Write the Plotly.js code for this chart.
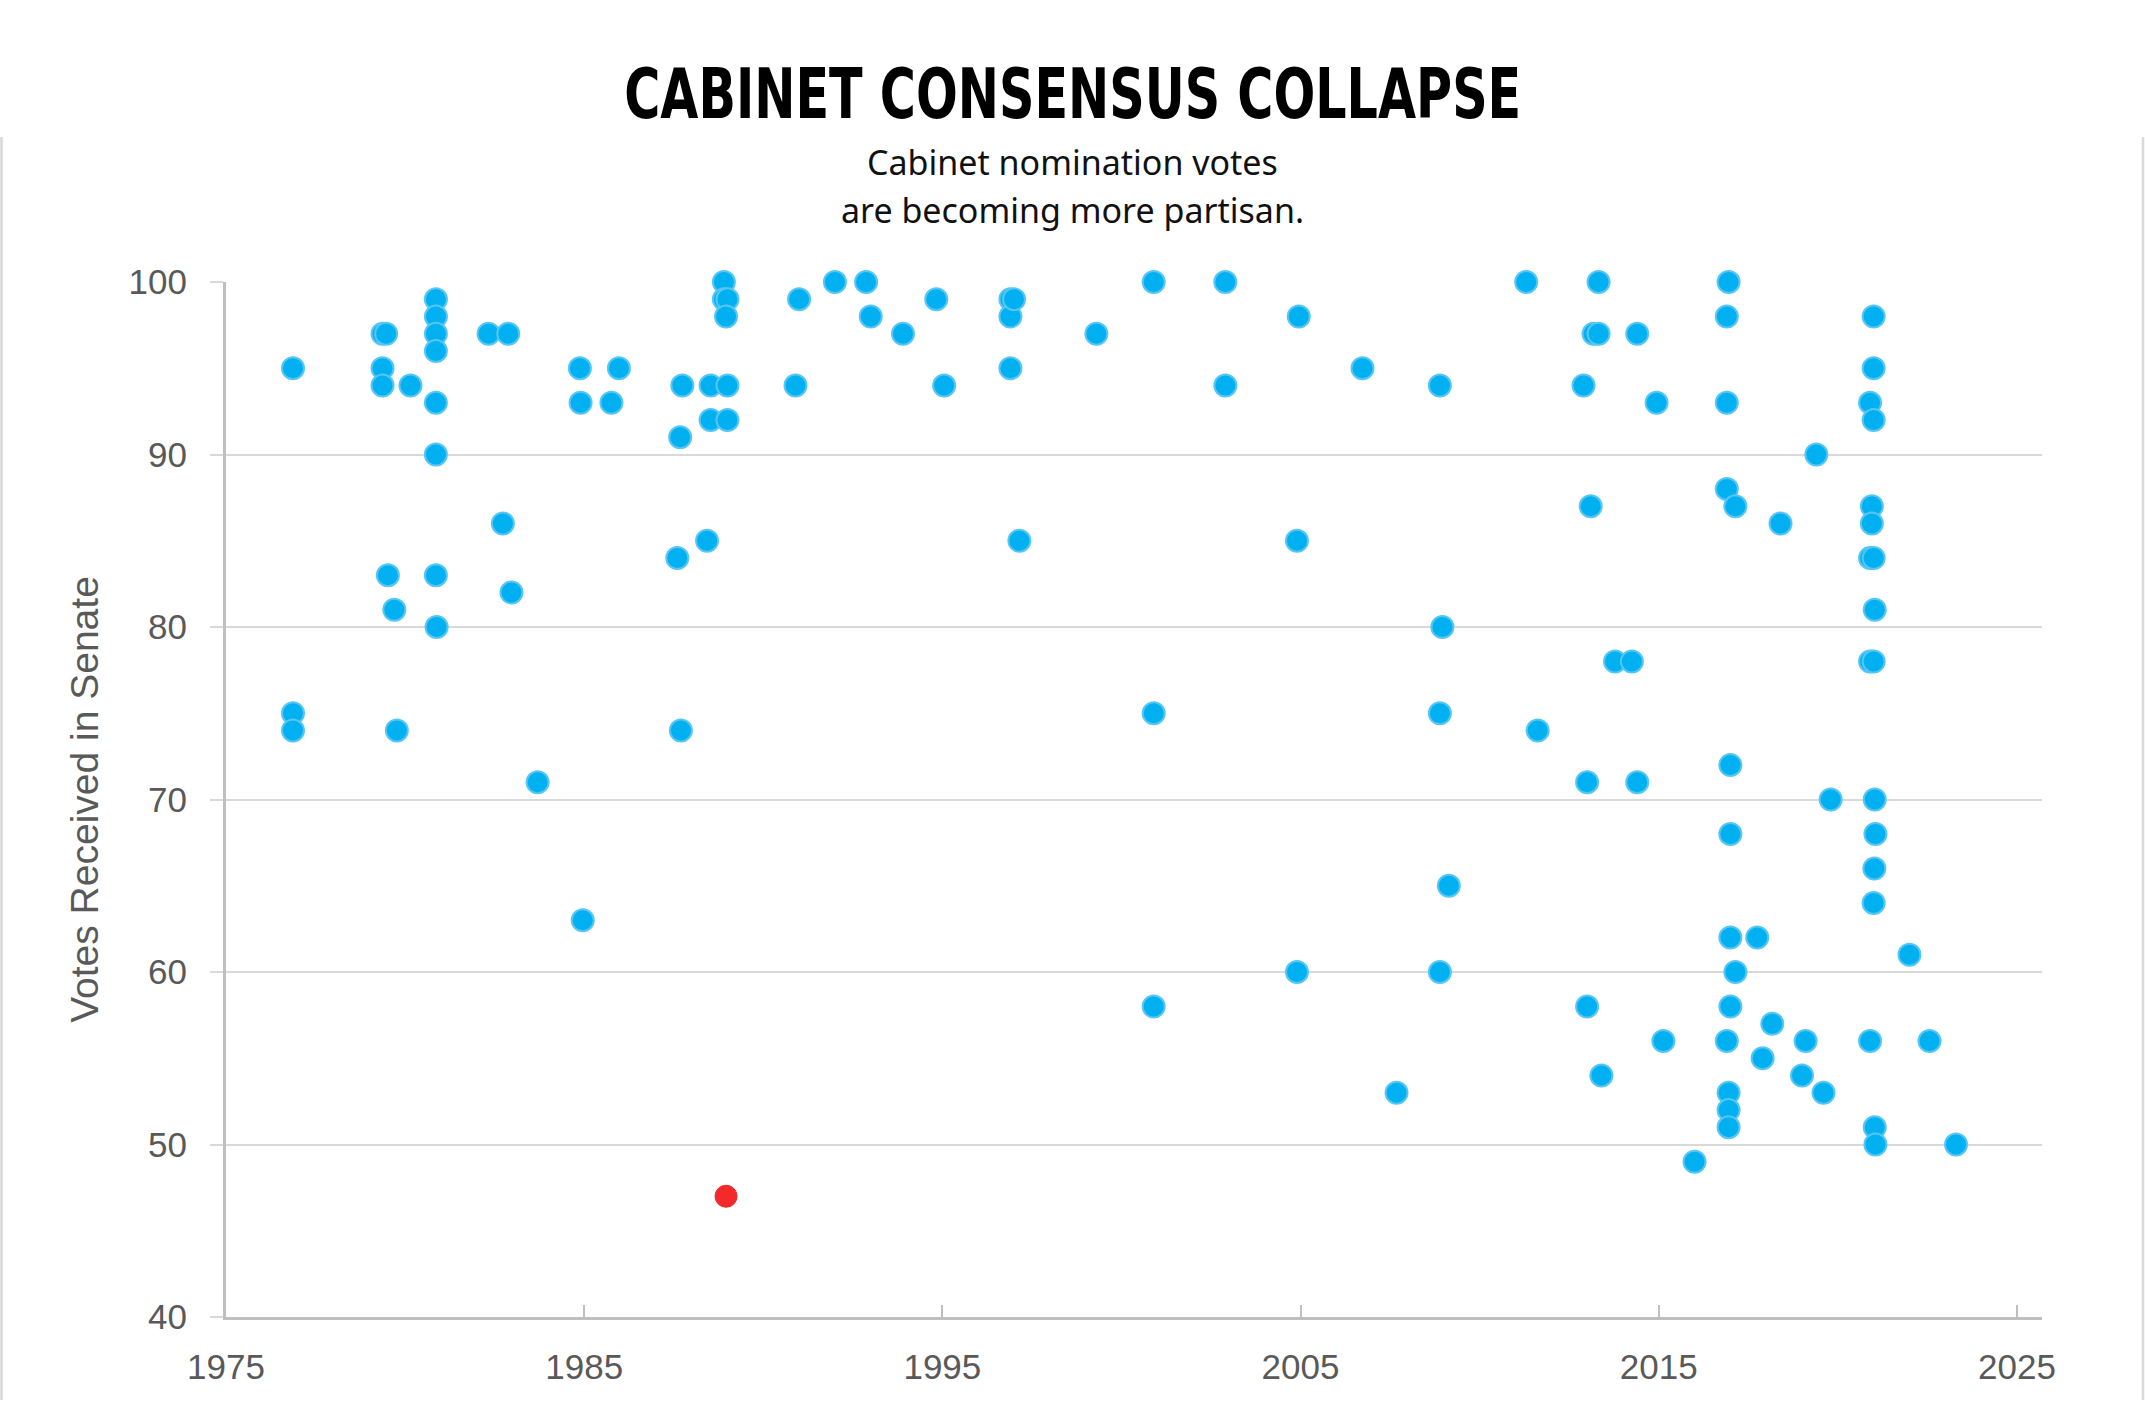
<!DOCTYPE html>
<html>
<head>
<meta charset="utf-8">
<script src="https://cdn.plot.ly/plotly-3.0.1.min.js"></script>
<style>
  html, body { margin: 0; padding: 0; background: #ffffff; }
  #chart { width: 2145px; height: 1423px; }
</style>
</head>
<body>
<div id="chart"></div>
<script>
// ---- Data (year of confirmation vote, votes received) ----
const nomYear = [
  1976.87, 1976.87, 1976.87,
  1979.37, 1979.37, 1979.37, 1979.47, 1979.52, 1979.70, 1979.77, 1980.15,
  1980.86, 1980.86, 1980.86, 1980.86, 1980.86, 1980.86, 1980.86, 1980.88,
  1982.33, 1982.88, 1982.73, 1982.97, 1983.70,
  1984.88, 1984.90, 1984.96, 1985.76, 1985.97,
  1987.74, 1987.68, 1987.60, 1987.70,
  1988.53, 1988.53, 1988.43, 1989.00, 1989.00, 1988.90, 1988.90, 1989.00, 1988.96,
  1991.00, 1990.90, 1992.00, 1992.87, 1993.00, 1993.90, 1994.83, 1995.05,
  1996.90, 1996.90, 1996.90, 1997.00, 1997.15, 1999.30,
  2000.90, 2000.90, 2000.90, 2002.90, 2002.90,
  2004.95, 2004.90, 2004.90, 2006.73, 2007.68,
  2008.89, 2008.89, 2008.89, 2008.96, 2009.14, 2011.30, 2011.62,
  2012.90, 2013.00, 2013.00, 2013.10, 2013.18, 2013.32, 2013.32, 2013.40,
  2013.78, 2014.25, 2014.40, 2014.40, 2014.94, 2015.13, 2016.00,
  2016.95, 2016.90, 2016.90, 2016.90, 2017.00, 2017.00,
  2017.00, 2017.00, 2016.90, 2016.95, 2016.95, 2016.95,
  2017.14, 2017.14, 2017.75, 2017.90, 2018.17, 2018.40,
  2019.00, 2019.10, 2019.40, 2019.60, 2019.80,
  2020.90, 2020.90, 2020.90, 2020.90,
  2021.00, 2021.00, 2021.00, 2020.95, 2020.95, 2021.00, 2021.03,
  2021.00, 2021.03, 2021.05, 2021.02, 2021.00, 2021.03, 2021.05,
  2022.00, 2022.56, 2023.30
];
const nomVotes = [
  95, 75, 74,
  97, 95, 94, 97, 83, 81, 74, 94,
  99, 98, 97, 96, 93, 90, 83, 80,
  97, 97, 86, 82, 71,
  95, 93, 63, 93, 95,
  94, 91, 84, 74,
  94, 92, 85, 94, 92, 100, 99, 99, 98,
  99, 94, 100, 100, 98, 97, 99, 94,
  99, 98, 95, 99, 85, 97,
  100, 75, 58, 100, 94,
  98, 85, 60, 95, 53,
  94, 75, 60, 80, 65, 100, 74,
  94, 71, 58, 87, 97, 97, 100, 54,
  78, 78, 97, 71, 93, 56, 49,
  100, 98, 93, 88, 72, 68,
  62, 58, 56, 53, 52, 51,
  87, 60, 62, 55, 57, 86,
  54, 56, 90, 53, 70,
  93, 84, 78, 56,
  98, 95, 92, 87, 86, 84, 81,
  78, 70, 68, 66, 64, 51, 50,
  61, 56, 50
];
// Highlighted outlier (rejected nomination)
const outlierYear = [1988.96];
const outlierVotes = [47];

const xTicks = [1975, 1985, 1995, 2005, 2015, 2025];
const yTicks = [40, 50, 60, 70, 80, 90, 100];

const titleText = 'CABINET CONSENSUS COLLAPSE';
const subtitleLines = ['Cabinet nomination votes', 'are becoming more partisan.'];
const yTitleText = 'Votes Received in Senate';

// ---- Chart ----
const axisGrey = '#bfbfbf';
const gridGrey = '#d9d9d9';
const textGrey = '#595959';

const traces = [
  {
    type: 'scatter', mode: 'markers', x: nomYear, y: nomVotes,
    cliponaxis: false, hoverinfo: 'x+y',
    marker: { size: 22, color: '#00b0f0', line: { color: '#55c6f5', width: 2 } }
  },
  {
    type: 'scatter', mode: 'markers', x: outlierYear, y: outlierVotes,
    cliponaxis: false, hoverinfo: 'x+y',
    marker: { size: 22, color: '#f42a2a', line: { color: '#f42a2a', width: 1 } }
  }
];

const L = 226, R = 103, T = 282, B = 106;
const plotW = 2145 - L - R, plotH = 1423 - T - B;
const px2xp = (px) => (px - L) / plotW;
const py2yp = (py) => (1423 - B - py) / plotH;

const layout = {
  width: 2145, height: 1423,
  margin: { l: L, r: R, t: T, b: B, pad: 0 },
  paper_bgcolor: '#ffffff', plot_bgcolor: '#ffffff',
  showlegend: false,
  font: { family: '"Liberation Sans", Arial, sans-serif', color: textGrey },
  xaxis: {
    range: [1975, 2025.7], tickvals: xTicks, ticktext: xTicks.map(String),
    ticks: 'inside', ticklen: 12, tickwidth: 2, tickcolor: axisGrey,
    showline: true, linecolor: axisGrey, linewidth: 3,
    showgrid: false, zeroline: false,
    tickfont: { size: 35, color: textGrey, family: '"Liberation Sans", Arial, sans-serif' },
    ticklabelstandoff: 17
  },
  yaxis: {
    range: [40, 100], tickvals: yTicks, ticktext: yTicks.map(String),
    ticks: 'outside', ticklen: 13, tickwidth: 2, tickcolor: gridGrey,
    showline: true, linecolor: axisGrey, linewidth: 3,
    showgrid: true, gridcolor: gridGrey, gridwidth: 2, zeroline: false,
    tickfont: { size: 35, color: textGrey, family: '"Liberation Sans", Arial, sans-serif' },
    ticklabelstandoff: 16,
    title: { text: yTitleText, standoff: 18,
             font: { size: 39, color: textGrey, family: '"Liberation Sans", Arial, sans-serif' } }
  },
  annotations: [
    { text: '<b>' + titleText + '</b>', xref: 'paper', yref: 'paper',
      x: px2xp(1072.5), y: py2yp(94), xanchor: 'center', yanchor: 'middle', showarrow: false,
      font: { size: 70, color: '#000000', family: '"DejaVu Sans Condensed", "DejaVu Sans", sans-serif' } },
    { text: subtitleLines[0], xref: 'paper', yref: 'paper',
      x: px2xp(1072.5), y: py2yp(162), xanchor: 'center', yanchor: 'middle', showarrow: false,
      font: { size: 34, color: '#111111', family: '"Noto Sans", sans-serif' } },
    { text: subtitleLines[1], xref: 'paper', yref: 'paper',
      x: px2xp(1072.5), y: py2yp(210), xanchor: 'center', yanchor: 'middle', showarrow: false,
      font: { size: 34, color: '#111111', family: '"Noto Sans", sans-serif' } }
  ],
  shapes: [
    { type: 'line', xref: 'paper', yref: 'paper', x0: px2xp(1.5), x1: px2xp(1.5),
      y0: py2yp(137), y1: py2yp(1400), line: { color: '#d9d9d9', width: 2.5 } },
    { type: 'line', xref: 'paper', yref: 'paper', x0: px2xp(2143), x1: px2xp(2143),
      y0: py2yp(137), y1: py2yp(1400), line: { color: '#d9d9d9', width: 2.5 } }
  ]
};

Plotly.newPlot('chart', traces, layout, { displayModeBar: false, staticPlot: true }).then(function (gd) {
  // Condense the headline to the width of the reference's heavy condensed type.
  const t = gd.querySelector('.annotation .annotation-text');
  if (t) {
    t.setAttribute('textLength', '897');
    t.setAttribute('lengthAdjust', 'spacingAndGlyphs');
  }
});
</script>
</body>
</html>
